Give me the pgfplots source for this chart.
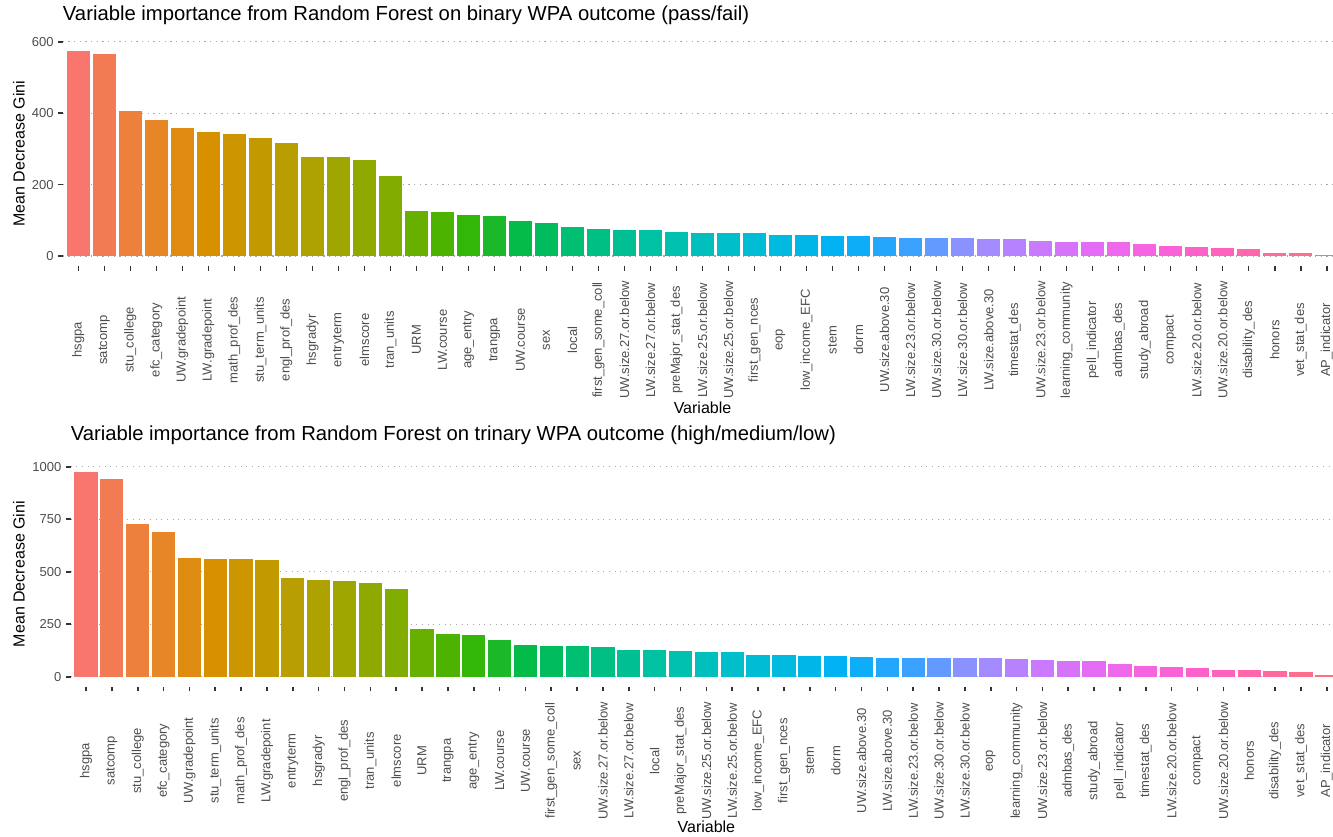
\documentclass[border=0pt]{standalone}
\usepackage{pgfplots}
\pgfplotsset{compat=1.18}
\usepackage{pgfplotstable}
\usepackage{fontspec}
\setmainfont{Liberation Sans}

% key colours of the hue wheel (18 degree steps, starting at 15 degrees)
\definecolor{k0}{HTML}{F8766D}
\definecolor{k1}{HTML}{EA8331}
\definecolor{k2}{HTML}{D89000}
\definecolor{k3}{HTML}{C09B00}
\definecolor{k4}{HTML}{A3A500}
\definecolor{k5}{HTML}{7CAE00}
\definecolor{k6}{HTML}{39B600}
\definecolor{k7}{HTML}{00BB4E}
\definecolor{k8}{HTML}{00BF7D}
\definecolor{k9}{HTML}{00C1A3}
\definecolor{k10}{HTML}{00BFC4}
\definecolor{k11}{HTML}{00BAE0}
\definecolor{k12}{HTML}{00B0F6}
\definecolor{k13}{HTML}{35A2FF}
\definecolor{k14}{HTML}{9590FF}
\definecolor{k15}{HTML}{C77CFF}
\definecolor{k16}{HTML}{E76BF3}
\definecolor{k17}{HTML}{FA62DB}
\definecolor{k18}{HTML}{FF62BC}
\definecolor{k19}{HTML}{FF6C91}
\definecolor{k20}{HTML}{F8766D}

% one colour per bar, evenly spaced around the wheel
\foreach \n in {0,...,48}{%
  \pgfmathsetmacro\pos{\n*20/49}%
  \pgfmathtruncatemacro\lo{floor(\pos)}%
  \pgfmathtruncatemacro\hi{\lo+1}%
  \pgfmathtruncatemacro\wt{round(100*(1-\pos+\lo))}%
  \xglobal\colorlet{c\n}{k\lo!\wt!k\hi}%
}

\definecolor{ticktext}{HTML}{4D4D4D}
\definecolor{tickmark}{HTML}{333333}
\definecolor{gridcol}{HTML}{A8A8A8}

% Mean decrease in Gini, binary outcome (pass/fail)
\pgfplotstableread{
i v
0 573
1 566
2 406
3 382
4 357
5 348
6 342
7 329
8 317
9 276
10 276
11 270
12 223
13 127
14 122
15 114
16 112
17 97
18 93
19 81
20 76
21 74
22 72
23 68
24 64
25 64
26 63
27 59
28 59
29 57
30 56
31 52
32 50
33 50
34 50
35 48
36 47
37 43
38 40
39 38
40 38
41 33
42 28
43 25
44 21
45 19
46 9
47 7.5
48 2
}\binaryimp

% Mean decrease in Gini, trinary outcome (high/medium/low)
\pgfplotstableread{
i v
0 976
1 943
2 726
3 691
4 564
5 560
6 560
7 554
8 470
9 462
10 456
11 445
12 418
13 226
14 205
15 200
16 175
17 149
18 146
19 146
20 140
21 129
22 127
23 124
24 119
25 116
26 103
27 103
28 100
29 97
30 92
31 91
32 91
33 91
34 89
35 89
36 83
37 78
38 76
39 73
40 60
41 52
42 46
43 40
44 32
45 32
46 27
47 22
48 6.5
}\trinaryimp

\pgfplotsset{
  imp/.style={
    scale only axis,
    anchor=south west,
    xmin=-0.6, xmax=48.6,
    xtick={0,...,48},
    axis lines*=left,
    axis line style={draw=none},
    tick align=outside,
    major tick length=3.3pt,
    tick style={draw=tickmark, line width=1.2pt},
    ymajorgrids,
    grid style={draw=gridcol, line width=0.85pt, dash pattern=on 0.85pt off 3.4pt},
    xticklabel style={yshift=-52pt, rotate=90, anchor=center,
      font=\fontsize{9.75}{10}\selectfont, text=ticktext},
    yticklabel style={font=\fontsize{9.75}{10}\selectfont, text=ticktext},
    title style={anchor=base west, yshift=0pt, inner sep=0pt,
      font=\fontsize{15.2}{17}\selectfont},
    label style={font=\fontsize{12}{14}\selectfont},
    xlabel={Variable},
    ylabel={Mean Decrease Gini},
  },
  impbar/.style={ybar, bar width=0.9, bar shift=0pt, draw=none, fill=c#1,
    x filter/.expression={abs(x-#1)<0.3 ? x : nan}},
}

\begin{document}
\begin{tikzpicture}
\useasboundingbox (0,0) rectangle (999.75pt,-627pt);
\clip (0,0) rectangle (999.75pt,-627pt);

\begin{axis}[imp,
  at={(47.03pt,-199.65pt)},
  width=959.7pt, height=168.8pt,
  ymin=-28.65, ymax=601.6,
  ytick={0,200,400,600}, yticklabels={0,200,400,600},
  title={Variable importance from Random Forest on binary WPA outcome (pass/fail)},
  title style={at={(axis description cs:0,1.058)}},
  xlabel style={at={(axis description cs:0.5,-0.630)}, anchor=center},
  ylabel style={at={(axis description cs:-0.0342,0.5)}, anchor=center},
  xticklabels={hsgpa, satcomp, stu\_college, efc\_category, UW.gradepoint,
    LW.gradepoint, math\_prof\_des, stu\_term\_units, engl\_prof\_des, hsgradyr,
    entryterm, elmscore, tran\_units, URM, LW.course, age\_entry, trangpa,
    UW.course, sex, local, first\_gen\_some\_coll, UW.size.27.or.below,
    LW.size.27.or.below, preMajor\_stat\_des, LW.size.25.or.below,
    UW.size.25.or.below, first\_gen\_nces, eop, low\_income\_EFC, stem, dorm,
    UW.size.above.30, LW.size.23.or.below, UW.size.30.or.below,
    LW.size.30.or.below, LW.size.above.30, timestat\_des, UW.size.23.or.below,
    learning\_community, pell\_indicator, admbas\_des, study\_abroad, compact,
    LW.size.20.or.below, UW.size.20.or.below, disability\_des, honors,
    vet\_stat\_des, AP\_indicator},
]
\pgfplotsinvokeforeach{0,...,48}{
  \addplot[impbar=#1] table[x=i, y=v] {\binaryimp};
}
\end{axis}

\begin{axis}[imp,
  at={(52.88pt,-515.25pt)},
  width=953.8pt, height=169.4pt,
  ymin=-48.9, ymax=1026.9,
  ytick={0,250,500,750,1000}, yticklabels={0,250,500,750,1000},
  title={Variable importance from Random Forest on trinary WPA outcome (high/medium/low)},
  title style={at={(axis description cs:0,1.058)}},
  xlabel style={at={(axis description cs:0.5,-0.620)}, anchor=center},
  ylabel style={at={(axis description cs:-0.0405,0.5)}, anchor=center},
  xticklabels={hsgpa, satcomp, stu\_college, efc\_category, UW.gradepoint,
    stu\_term\_units, math\_prof\_des, LW.gradepoint, entryterm, hsgradyr,
    engl\_prof\_des, tran\_units, elmscore, URM, trangpa, age\_entry, LW.course,
    UW.course, first\_gen\_some\_coll, sex, UW.size.27.or.below,
    LW.size.27.or.below, local, preMajor\_stat\_des, UW.size.25.or.below,
    LW.size.25.or.below, low\_income\_EFC, first\_gen\_nces, stem, dorm,
    UW.size.above.30, LW.size.above.30, LW.size.23.or.below,
    UW.size.30.or.below, LW.size.30.or.below, eop, learning\_community,
    UW.size.23.or.below, admbas\_des, study\_abroad, pell\_indicator,
    timestat\_des, LW.size.20.or.below, compact, UW.size.20.or.below, honors,
    disability\_des, vet\_stat\_des, AP\_indicator},
]
\pgfplotsinvokeforeach{0,...,48}{
  \addplot[impbar=#1] table[x=i, y=v] {\trinaryimp};
}
\end{axis}
\end{tikzpicture}
\end{document}
